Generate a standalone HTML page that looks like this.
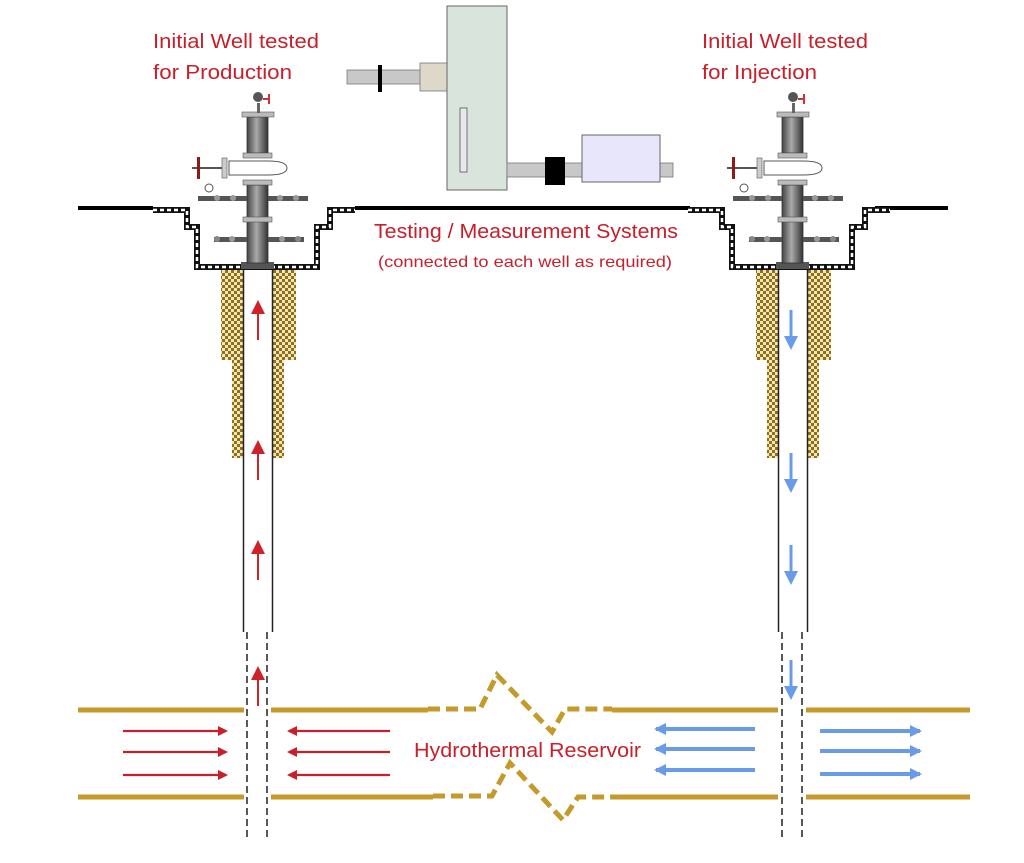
<!DOCTYPE html>
<html><head><meta charset="utf-8"><style>
html,body{margin:0;padding:0;background:#fff;}
svg{display:block;}
text{font-family:"Liberation Sans",sans-serif;fill:#c8202a;}
</style></head><body>
<svg width="1024" height="863" viewBox="0 0 1024 863" xmlns="http://www.w3.org/2000/svg">
<defs>
<pattern id="chk" width="6" height="6" patternUnits="userSpaceOnUse">
<rect width="6" height="6" fill="#8a6e2a"/>
<rect x="0" y="0" width="3" height="3" fill="#f4e7a8"/>
<rect x="3" y="3" width="3" height="3" fill="#f4e7a8"/>
</pattern>
<linearGradient id="cyl" x1="0" x2="1" y1="0" y2="0">
<stop offset="0" stop-color="#444"/><stop offset="0.45" stop-color="#aaa"/><stop offset="1" stop-color="#333"/>
</linearGradient>
<marker id="ar" markerWidth="10" markerHeight="10" refX="8" refY="5" orient="auto" markerUnits="userSpaceOnUse">
<path d="M0,0 L10,5 L0,10 Z" fill="#c8202a"/></marker>
<marker id="ab" markerWidth="12" markerHeight="12" refX="10" refY="6" orient="auto" markerUnits="userSpaceOnUse">
<path d="M0,0 L12,6 L0,12 Z" fill="#6a9be8"/></marker>
<marker id="arv" markerWidth="14" markerHeight="14" refX="10" refY="7" orient="auto" markerUnits="userSpaceOnUse">
<path d="M0,0 L14,7 L0,14 Z" fill="#d0202a"/></marker>
<marker id="abv" markerWidth="14" markerHeight="14" refX="10" refY="7" orient="auto" markerUnits="userSpaceOnUse">
<path d="M0,0 L14,7 L0,14 Z" fill="#6a9be8"/></marker>
<g id="well">
 <rect x="221" y="270" width="11" height="90" fill="url(#chk)"/>
 <rect x="284" y="270" width="12" height="90" fill="url(#chk)"/>
 <rect x="232" y="270" width="11" height="188" fill="url(#chk)"/>
 <rect x="273" y="270" width="11" height="188" fill="url(#chk)"/>
 <line x1="243.5" y1="270" x2="243.5" y2="632" stroke="#222" stroke-width="1.5"/>
 <line x1="272.5" y1="270" x2="272.5" y2="632" stroke="#222" stroke-width="1.5"/>
 <line x1="247" y1="632" x2="247" y2="840" stroke="#222" stroke-width="1.5" stroke-dasharray="7,4"/>
 <line x1="267" y1="632" x2="267" y2="840" stroke="#222" stroke-width="1.5" stroke-dasharray="7,4"/>
 <path d="M153,210 H187 V227 H197 V267 H317 V227 H330 V210 H355" fill="none" stroke="#111" stroke-width="6"/>
 <path d="M153,210 H187 V227 H197 V267 H317 V227 H330 V210 H355" fill="none" stroke="#fff" stroke-width="2.5" stroke-dasharray="4,3"/>
 <rect x="241" y="262" width="33" height="7" fill="#555"/>
 <rect x="247" y="185" width="21" height="78" fill="url(#cyl)" stroke="#333" stroke-width="0.8"/>
 <rect x="243" y="217" width="29" height="5" fill="#bbb" stroke="#555" stroke-width="0.6"/>
 <rect x="243" y="180" width="29" height="5" fill="#bbb" stroke="#555" stroke-width="0.6"/>
 <rect x="247" y="117" width="21" height="36" fill="url(#cyl)" stroke="#333" stroke-width="0.8"/>
 <rect x="242" y="112" width="32" height="5" fill="#bbb" stroke="#555" stroke-width="0.6"/>
 <rect x="243" y="153" width="29" height="5" fill="#bbb" stroke="#555" stroke-width="0.6"/>
 <path d="M229,161 H268 Q287,161 287,168 Q287,175 268,175 H229 Z" fill="#fff" stroke="#555" stroke-width="1"/>
 <rect x="222" y="158" width="5" height="20" fill="#ccc" stroke="#555" stroke-width="0.6"/>
 <line x1="192" y1="168" x2="222" y2="168" stroke="#555" stroke-width="2"/>
 <rect x="197" y="157" width="3" height="22" fill="#8b1a1a"/>
 <rect x="257" y="103" width="3" height="10" fill="#666"/>
 <circle cx="258" cy="97" r="5" fill="#555"/>
 <rect x="263" y="98" width="6" height="2" fill="#c33"/><rect x="268" y="94" width="2" height="10" fill="#c33"/>
 <rect x="198" y="196" width="49" height="5" fill="#555"/><rect x="268" y="196" width="40" height="5" fill="#555"/>
 <circle cx="209" cy="188" r="4" fill="#fff" stroke="#555"/>
 <circle cx="217" cy="198" r="3" fill="#999"/><circle cx="233" cy="198" r="3" fill="#999"/>
 <circle cx="280" cy="198" r="3" fill="#999"/><circle cx="296" cy="198" r="3" fill="#999"/>
 <rect x="214" y="237" width="33" height="5" fill="#555"/><rect x="268" y="237" width="36" height="5" fill="#555"/>
 <circle cx="217" cy="239" r="3" fill="#888"/><circle cx="232" cy="239" r="3" fill="#999"/>
 <circle cx="282" cy="239" r="3" fill="#999"/><circle cx="298" cy="239" r="3" fill="#888"/>
</g>
</defs>

<line x1="78" y1="208" x2="153" y2="208" stroke="#000" stroke-width="4"/>
<line x1="355" y1="208" x2="690" y2="208" stroke="#000" stroke-width="4"/>
<line x1="875" y1="208" x2="948" y2="208" stroke="#000" stroke-width="4"/>

<use href="#well"/>
<use href="#well" transform="translate(535,0)"/>

<rect x="347" y="70" width="74" height="14" fill="#c8c8c8" stroke="#777" stroke-width="0.8"/>
<rect x="378" y="65" width="4" height="27" fill="#000"/>
<rect x="420" y="63" width="28" height="28" fill="#ddd8c8" stroke="#777" stroke-width="0.8"/>
<rect x="447" y="6" width="60" height="184" fill="#d8e4dc" stroke="#666" stroke-width="1"/>
<rect x="460" y="108" width="7" height="64" fill="#e8e8ee" stroke="#555" stroke-width="0.8"/>
<rect x="507" y="163" width="166" height="14" fill="#c8c8c8" stroke="#777" stroke-width="0.8"/>
<rect x="545" y="157" width="20" height="28" fill="#000"/>
<rect x="582" y="135" width="78" height="47" fill="#e8e6fa" stroke="#666" stroke-width="1"/>

<g stroke="#c49a2a" stroke-width="5" fill="none">
<line x1="78" y1="710" x2="244" y2="710"/><line x1="271" y1="710" x2="428" y2="710"/>
<line x1="612" y1="710" x2="778" y2="710"/><line x1="806" y1="710" x2="970" y2="710"/>
<line x1="78" y1="797" x2="244" y2="797"/><line x1="271" y1="797" x2="433" y2="797"/>
<line x1="615" y1="797" x2="778" y2="797"/><line x1="806" y1="797" x2="970" y2="797"/>
<path d="M428,709 H480 L497,675 L552,732 L565,709 H612" stroke-dasharray="12,6"/>
<path d="M433,796 H492 L510,763 L563,820 L578,797 H615" stroke-dasharray="12,6"/>
</g>

<g stroke="#c8202a" stroke-width="2.2">
<line x1="123" y1="731" x2="226" y2="731" marker-end="url(#ar)"/>
<line x1="123" y1="752" x2="226" y2="752" marker-end="url(#ar)"/>
<line x1="123" y1="775" x2="226" y2="775" marker-end="url(#ar)"/>
<line x1="390" y1="731" x2="289" y2="731" marker-end="url(#ar)"/>
<line x1="390" y1="752" x2="289" y2="752" marker-end="url(#ar)"/>
<line x1="390" y1="775" x2="289" y2="775" marker-end="url(#ar)"/>
</g>
<g stroke="#6a9be8" stroke-width="4">
<line x1="755" y1="729" x2="656" y2="729" marker-end="url(#ab)"/>
<line x1="755" y1="749" x2="656" y2="749" marker-end="url(#ab)"/>
<line x1="755" y1="770" x2="656" y2="770" marker-end="url(#ab)"/>
<line x1="820" y1="731" x2="920" y2="731" marker-end="url(#ab)"/>
<line x1="820" y1="751" x2="920" y2="751" marker-end="url(#ab)"/>
<line x1="820" y1="774" x2="920" y2="774" marker-end="url(#ab)"/>
</g>
<g stroke="#d0202a" stroke-width="2">
<line x1="258" y1="340" x2="258" y2="304" marker-end="url(#arv)"/>
<line x1="258" y1="480" x2="258" y2="444" marker-end="url(#arv)"/>
<line x1="258" y1="580" x2="258" y2="544" marker-end="url(#arv)"/>
<line x1="258" y1="706" x2="258" y2="670" marker-end="url(#arv)"/>
</g>
<g stroke="#6a9be8" stroke-width="3">
<line x1="791" y1="310" x2="791" y2="346" marker-end="url(#abv)"/>
<line x1="791" y1="453" x2="791" y2="489" marker-end="url(#abv)"/>
<line x1="791" y1="545" x2="791" y2="581" marker-end="url(#abv)"/>
<line x1="791" y1="660" x2="791" y2="696" marker-end="url(#abv)"/>
</g>

<text x="153" y="48" font-size="20" textLength="166" lengthAdjust="spacingAndGlyphs">Initial Well tested</text>
<text x="153" y="79" font-size="20" textLength="139" lengthAdjust="spacingAndGlyphs">for Production</text>
<text x="702" y="48" font-size="20" textLength="166" lengthAdjust="spacingAndGlyphs">Initial Well tested</text>
<text x="702" y="79" font-size="20" textLength="115" lengthAdjust="spacingAndGlyphs">for Injection</text>
<text x="374" y="238" font-size="20" textLength="304" lengthAdjust="spacingAndGlyphs">Testing / Measurement Systems</text>
<text x="378" y="267" font-size="16" textLength="294" lengthAdjust="spacingAndGlyphs">(connected to each well as required)</text>
<text x="414" y="757" font-size="20" textLength="227" lengthAdjust="spacingAndGlyphs">Hydrothermal Reservoir</text>
</svg>
</body></html>
